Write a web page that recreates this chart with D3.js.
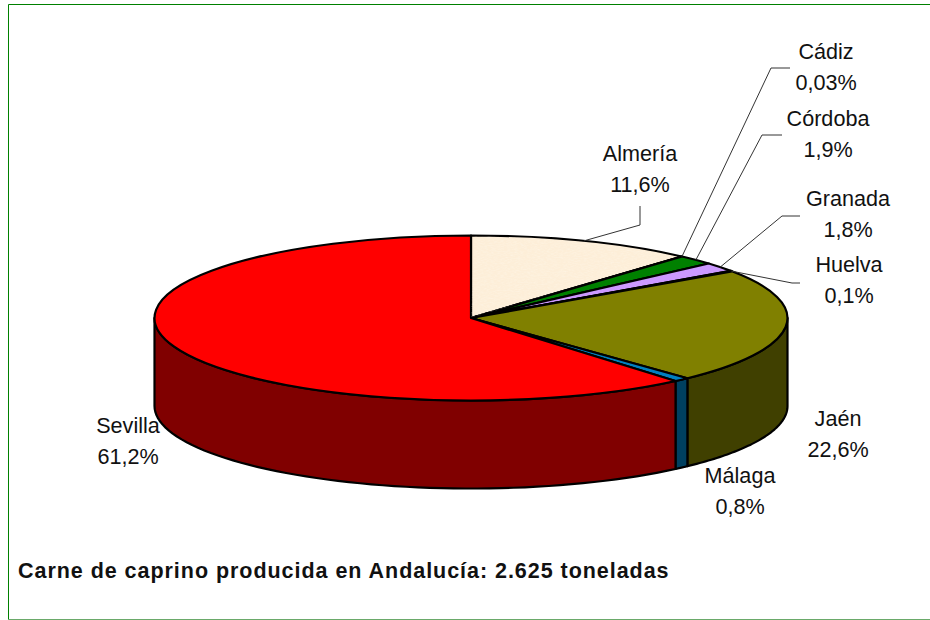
<!DOCTYPE html>
<html><head><meta charset="utf-8">
<script src="https://cdnjs.cloudflare.com/ajax/libs/d3/7.8.5/d3.min.js"></script>
<style>html,body{margin:0;padding:0;background:#fff}svg{display:block}text{font-family:"Liberation Sans",Arial,sans-serif;fill:#111}</style>
</head><body><div id="chart"></div>
<script>
const categories = ["Almería","Cádiz","Córdoba","Granada","Huelva","Jaén","Málaga","Sevilla"];
const values = [11.6,0.03,1.9,1.8,0.1,22.6,0.8,61.2];
const valueLabels = ["11,6%","0,03%","1,9%","1,8%","0,1%","22,6%","0,8%","61,2%"];
const topColors = ["#fdeed8","#008000","#008000","#cc99ff","#cc99ff","#808000","#0080c0","#ff0000"];
const sideColors = ["#7d776d","#004000","#004000","#664c80","#664c80","#404000","#004060","#800000"];
const titleText = "Carne de caprino producida en Andalucía: 2.625 toneladas";

// layout: label centre, first baseline, and optional leader elbow/end
const labelLayout = [
  {x:640,y:161,leader:[[640,225],[640,206]]},
  {x:826,y:59,leader:[[771,68],[790,68]]},
  {x:828,y:126,leader:[[762,135],[782,135]]},
  {x:848,y:206,leader:[[782,216],[800,216]]},
  {x:849,y:272,leader:[[792,283],[800,283]]},
  {x:838,y:426},
  {x:740,y:483},
  {x:128,y:433}
];

const W=930,H=620,cx=471,cy=318,rx=316.5,ry=82.5,depth=88;
const svg=d3.select("#chart").append("svg").attr("width",W).attr("height",H);

const defs=svg.append("defs");
const f=defs.append("filter").attr("id","grain").attr("x",0).attr("y",0).attr("width","100%").attr("height","100%");
f.append("feTurbulence").attr("type","fractalNoise").attr("baseFrequency",0.3).attr("numOctaves",2).attr("seed",3);
f.append("feColorMatrix").attr("values","0 0 0 0 1  0 0 0 0 0.97  0 0 0 0 0.9  0 0 0 1.2 -0.45");
f.append("feComposite").attr("in2","SourceAlpha").attr("operator","in");

// frame
svg.append("path").attr("d","M930.5,4.5H8.5V619").attr("fill","none").attr("stroke","#008000");
svg.append("path").attr("d","M8,619.5H930").attr("fill","none").attr("stroke","#6aaa6a");

const slices=d3.pie().value(d=>d).sort(null).startAngle(0).endAngle(2*Math.PI)(values);
const px=a=>cx+rx*Math.sin(a), py=a=>cy-ry*Math.cos(a);
const line=d3.line().x(d=>d[0]).y(d=>d[1]);

// side walls: only the front half of the rim is visible
const wallGroup=svg.append("g");
const lo=Math.PI/2, hi=3*Math.PI/2;
slices.forEach((s,i)=>{
  const a0=Math.max(s.startAngle,lo), a1=Math.min(s.endAngle,hi);
  if(a1<=a0) return;
  const as=d3.range(0,61).map(k=>a0+(a1-a0)*k/60);
  const pts=as.map(a=>[px(a),py(a)]).concat(as.slice().reverse().map(a=>[px(a),py(a)+depth]));
  wallGroup.append("path").attr("d",line(pts)+"Z").attr("fill",sideColors[i]).attr("stroke","#000").attr("stroke-width",2.2).attr("stroke-linejoin","round");
});

// top faces, drawn with d3.arc in a squashed group
const arc=d3.arc().innerRadius(0).outerRadius(rx);
const faceGroup=svg.append("g").attr("transform",`translate(${cx},${cy}) scale(1,${ry/rx})`);
slices.forEach((s,i)=>{
  faceGroup.append("path").attr("d",arc(s)).attr("fill",topColors[i]).attr("stroke","#000").attr("stroke-width",2.2)
    .attr("stroke-linejoin","round").attr("vector-effect","non-scaling-stroke");
});
// Almería speckle
faceGroup.append("path").attr("d",d3.arc().innerRadius(0).outerRadius(rx-4)({startAngle:slices[0].startAngle+0.01,endAngle:slices[0].endAngle-0.02})).attr("fill","#fff").attr("filter","url(#grain)").attr("opacity",0.5);

// leaders
slices.forEach((s,i)=>{
  const L=labelLayout[i]; if(!L.leader) return;
  const m=(s.startAngle+s.endAngle)/2;
  svg.append("path").attr("d",line([[px(m),py(m)],...L.leader])).attr("fill","none").attr("stroke","#333").attr("stroke-width",1);
});

// labels
categories.forEach((c,i)=>{
  const L=labelLayout[i];
  const t=svg.append("text").attr("text-anchor","middle").attr("font-size",21.6);
  t.append("tspan").attr("x",L.x).attr("y",L.y).text(c);
  t.append("tspan").attr("x",L.x).attr("y",L.y+31).text(valueLabels[i]);
});

svg.append("text").attr("x",18).attr("y",578).attr("font-size",21.5).attr("font-weight","bold").attr("letter-spacing",0.96).text(titleText);
</script></body></html>
